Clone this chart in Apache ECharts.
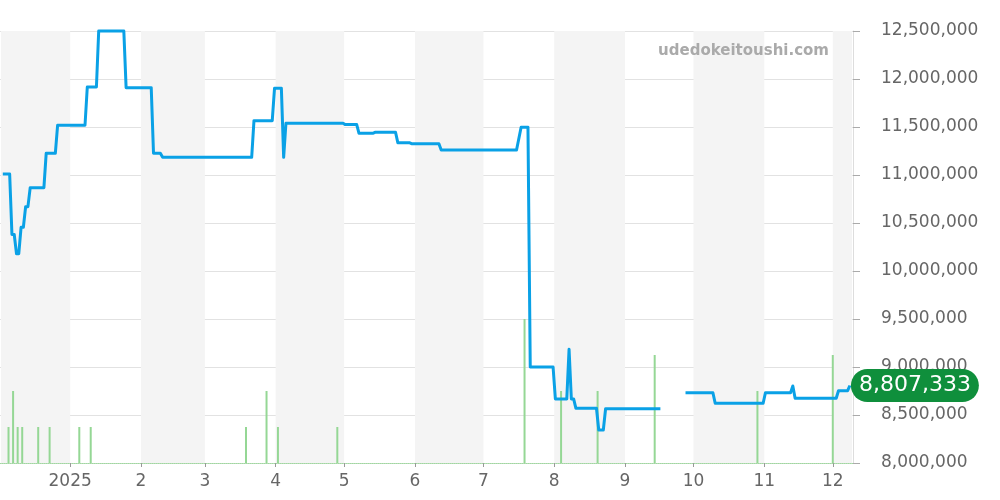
<!DOCTYPE html>
<html>
<head>
<meta charset="utf-8">
<script src="https://cdn.jsdelivr.net/npm/echarts@6/dist/echarts.min.js"></script>
<style>html,body{margin:0;padding:0;background:#fff}#c{width:1000px;height:500px}</style>
</head>
<body>
<div id="c"></div>
<script>
// price line (step-like daily series); null = gap
const priceDates = [
  '2024-12-02','2024-12-05','2024-12-06','2024-12-07','2024-12-08','2024-12-09','2024-12-10','2024-12-11',
  '2024-12-12','2024-12-13','2024-12-14','2024-12-20','2024-12-21','2024-12-25','2024-12-26',
  '2025-01-07','2025-01-08','2025-01-12','2025-01-13','2025-01-24','2025-01-25',
  '2025-02-05','2025-02-06','2025-02-09','2025-02-10',
  '2025-03-21','2025-03-22','2025-03-30','2025-03-31','2025-04-03','2025-04-04','2025-04-05',
  '2025-04-30','2025-05-01','2025-05-06','2025-05-07','2025-05-13','2025-05-14','2025-05-23','2025-05-24',
  '2025-05-29','2025-05-30','2025-06-11','2025-06-12',
  '2025-07-15','2025-07-17','2025-07-20','2025-07-21','2025-07-31','2025-08-01',
  '2025-08-06','2025-08-07','2025-08-08','2025-08-09','2025-08-10','2025-08-19','2025-08-20',
  '2025-08-22','2025-08-23','2025-09-16','2025-09-21','2025-09-27',
  '2025-10-09','2025-10-10','2025-10-31','2025-11-01','2025-11-12','2025-11-13','2025-11-14',
  '2025-12-02','2025-12-03','2025-12-07','2025-12-08'
];
const priceValues = [
  11010000,11010000,10380000,10380000,10180000,10180000,10455000,10455000,
  10670000,10670000,10868000,10868000,11226000,11226000,11518000,
  11518000,11917000,11917000,12500000,12500000,11910000,
  11910000,11226000,11226000,11184000,
  11184000,11566000,11566000,11903000,11903000,11184000,11539000,
  11539000,11525000,11525000,11434000,11434000,11445000,11445000,11337000,
  11337000,11326000,11326000,11260000,
  11260000,11497000,11497000,9000000,9000000,8667000,
  8667000,9184000,8667000,8667000,8570000,8570000,8344000,
  8344000,8565000,8565000,null,8732000,
  8732000,8622000,8622000,8732000,8732000,8802000,8674000,
  8674000,8753000,8753000,8807333
];
// transaction counts (green bars)
const volumeDates = [
  '2024-12-05','2024-12-07','2024-12-09','2024-12-11','2024-12-18','2024-12-23',
  '2025-01-05','2025-01-10','2025-03-19','2025-03-28','2025-04-02','2025-04-28',
  '2025-07-19','2025-08-04','2025-08-20','2025-09-14','2025-10-29','2025-12-01'
];
const volumeValues = [1,2,1,1,1,1, 1,1,1,2,1,1, 4,2,2,3,2,3];
// y-axis ticks
const yMin = 8000000, yMax = 12500000, yStep = 500000;
// alternating shaded months
const shadedMonths = [
  ['2024-12-01','2025-01-01'],['2025-02-01','2025-03-01'],['2025-04-01','2025-05-01'],
  ['2025-06-01','2025-07-01'],['2025-08-01','2025-09-01'],['2025-10-01','2025-11-01'],
  ['2025-12-01','2026-01-01']
];
const xMin = new Date('2024-12-01T17:00:00').getTime();
const xMax = new Date('2025-12-09T10:00:00').getTime();
const lastLabel = '8,807,333';

const ts = (s, t) => new Date(s + 'T' + (t || '00:00') + ':00').getTime();
const clampT = t => Math.max(xMin, Math.min(xMax, t));
const FONT = 'DejaVu Sans';

const chart = echarts.init(document.getElementById('c'), null, {renderer: 'canvas'});
const lineData = priceDates.map((d, i) => [ts(d, '12:00'), priceValues[i]]);
const last = lineData[lineData.length - 1];

chart.setOption({
  animation: false,
  backgroundColor: '#fff',
  textStyle: {fontFamily: FONT},
  grid: {left: 0, right: 147, top: 31, bottom: 37, containLabel: false},
  xAxis: {
    type: 'time', min: xMin, max: xMax, splitNumber: 12,
    axisLine: {show: true, lineStyle: {color: '#9fd89f', type: 'dotted', width: 1}},
    axisTick: {show: true, length: 4, lineStyle: {color: '#999'}},
    splitLine: {show: false},
    axisLabel: {
      color: '#666', fontSize: 17, margin: 10, fontFamily: FONT,
      formatter: function (v) {
        const d = new Date(v);
        return d.getMonth() === 0 ? String(d.getFullYear()) : String(d.getMonth() + 1);
      }
    }
  },
  yAxis: [{
    type: 'value', position: 'right', min: yMin, max: yMax, interval: yStep,
    axisLine: {show: true, lineStyle: {color: '#ddd'}},
    axisTick: {show: true, length: 7, lineStyle: {color: '#aaa'}},
    splitLine: {show: true, lineStyle: {color: '#e2e2e2'}},
    axisLabel: {color: '#666', fontSize: 17, margin: 28, fontFamily: FONT,
      formatter: v => v.toLocaleString('en-US')}
  }, {
    type: 'value', min: 0, max: 12, show: false, splitLine: {show: false}
  }],
  graphic: [{
    type: 'text', right: 171, top: 44, z: 100,
    style: {text: 'udedokeitoushi.com', font: 'bold 15px "DejaVu Sans"', fill: '#aaa'}
  }],
  series: [{
    type: 'line', data: [], z: -1, silent: true,
    markArea: {silent: true, itemStyle: {color: '#f4f4f4'},
      data: shadedMonths.map(m => [{xAxis: clampT(ts(m[0]))}, {xAxis: clampT(ts(m[1]))}])}
  }, {
    type: 'bar', yAxisIndex: 1, barWidth: 2, z: 1,
    itemStyle: {color: '#95d795'},
    data: volumeDates.map((d, i) => [ts(d), volumeValues[i]])
  }, {
    type: 'line', data: lineData, symbol: 'none', clip: false, connectNulls: false, z: 3,
    lineStyle: {color: '#0aa1e6', width: 3, join: 'round'},
    markPoint: {
      symbol: 'circle', symbolSize: 0,
      data: [{coord: last}],
      label: {
        show: true, position: 'right', distance: 1, formatter: lastLabel,
        color: '#fff', fontSize: 22, fontFamily: FONT, backgroundColor: '#0f8f3c',
        borderRadius: 17, padding: [6, 8, 5, 8]
      }
    }
  }]
});
</script>
</body>
</html>
